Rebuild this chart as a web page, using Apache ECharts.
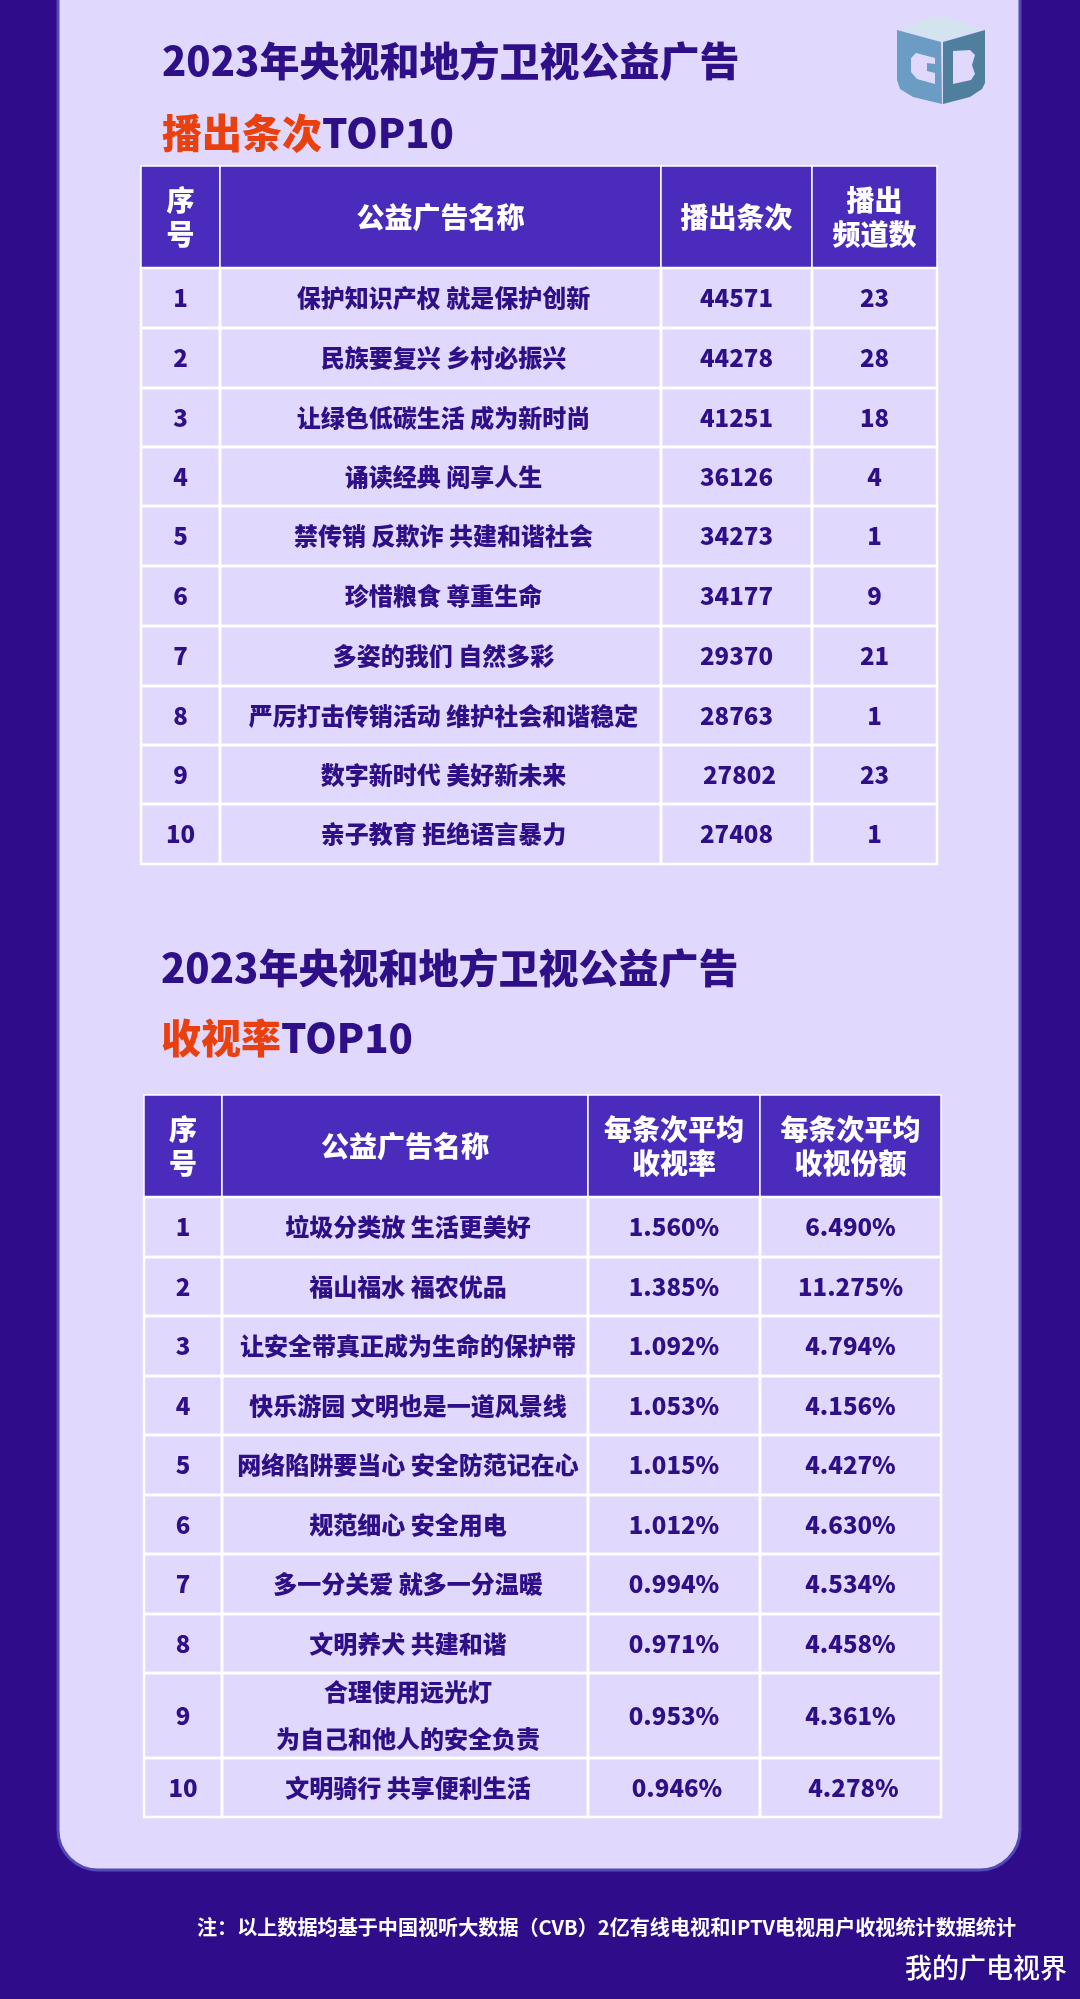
<!DOCTYPE html>
<html><head><meta charset="utf-8">
<style>html,body{margin:0;padding:0;background:#2e0c8a}#c{width:1080px;height:1999px}</style>
<script src="https://cdn.jsdelivr.net/npm/echarts@6/dist/echarts.min.js"></script>
</head><body><div id="c"></div>
<script>
// ---- data ----
const titleMain = '2023年央视和地方卫视公益广告';
const titleA = '播出条次';
const titleB = '收视率';
const titleSuffix = 'TOP10';
const headerA = ['序\n号', '公益广告名称', '播出条次', '播出\n频道数'];
const headerB = ['序\n号', '公益广告名称', '每条次平均\n收视率', '每条次平均\n收视份额'];
const ranks = ['1','2','3','4','5','6','7','8','9','10'];
const namesA = ['保护知识产权 就是保护创新','民族要复兴 乡村必振兴','让绿色低碳生活 成为新时尚','诵读经典 阅享人生','禁传销 反欺诈 共建和谐社会','珍惜粮食 尊重生命','多姿的我们 自然多彩','严厉打击传销活动 维护社会和谐稳定','数字新时代 美好新未来','亲子教育 拒绝语言暴力'];
const playsA = ['44571','44278','41251','36126','34273','34177','29370','28763','27802','27408'];
const channelsA = ['23','28','18','4','1','9','21','1','23','1'];
const namesB = ['垃圾分类放 生活更美好','福山福水 福农优品','让安全带真正成为生命的保护带','快乐游园 文明也是一道风景线','网络陷阱要当心 安全防范记在心','规范细心 安全用电','多一分关爱 就多一分温暖','文明养犬 共建和谐','合理使用远光灯\n为自己和他人的安全负责','文明骑行 共享便利生活'];
const ratingB = ['1.560%','1.385%','1.092%','1.053%','1.015%','1.012%','0.994%','0.971%','0.953%','0.946%'];
const shareB = ['6.490%','11.275%','4.794%','4.156%','4.427%','4.630%','4.534%','4.458%','4.361%','4.278%'];
const noteText = '注：以上数据均基于中国视听大数据（CVB）2亿有线电视和IPTV电视用户收视统计数据统计';
const watermark = '我的广电视界';

// ---- layout ----
const FONT = '"Noto Sans CJK SC","Noto Sans",sans-serif';
const NAVY = '#2f0f88', ORANGE = '#e8400f', HEAD = '#4a2bbb', PANEL = '#e0d9fd', BG = '#2e0c8a';
const layoutA = { x:[141,220,661,812,937], y:[166,268,328,388,447,506,566,626,686,745,804,864], nameDx:3, nudge:{'8,2':3} };
const layoutB = { x:[144,222,588,760,941], y:[1095,1197,1257,1316,1376,1435,1495,1554,1614,1673,1758,1817], nameDx:3, nudge:{'9,2':3,'9,3':3} };

function tableRows(header, c1, c2, c3) {
  const rows = [header.map((t,i)=>[i,0,t])];
  ranks.forEach((r,i)=>{ rows.push([[0,i+1,r],[1,i+1,c1[i]],[2,i+1,c2[i]],[3,i+1,c3[i]]]); });
  return rows.flat();
}
function makeSeries(idx, cells, lay) {
  return {
    type:'custom', coordinateSystem:'cartesian2d', xAxisIndex:idx, yAxisIndex:idx,
    silent:true, clip:false,
    encode:{x:0,y:1},
    data:cells,
    renderItem(params, api){
      const c = api.value(0), r = api.value(1);
      const text = cells[params.dataIndex][2];
      const p0 = api.coord([lay.x[c], lay.y[r]]);
      const p1 = api.coord([lay.x[c+1], lay.y[r+1]]);
      const head = r === 0;
      const dx = (!head && c === 1 ? lay.nameDx : 0) + (lay.nudge[(r-1)+','+c] || 0);
      const lines = text.split('\n').length;
      return { type:'group', children:[
        { type:'rect', shape:{x:p0[0],y:p0[1],width:p1[0]-p0[0],height:p1[1]-p0[1]},
          style:{fill:head?HEAD:'transparent',stroke:'#ffffff',lineWidth:head?1.5:2.5} },
        { type:'text', z2:5, style:{ text, x:(p0[0]+p1[0])/2+dx, y:(p0[1]+p1[1])/2,
            align:'center', verticalAlign:'middle',
            fill:head?'#ffffff':NAVY,
            font:'900 '+(head?28:24)+'px '+FONT,
            lineHeight: head?34:(lines>1?47:30) } }
      ]};
    }
  };
}
function titleOf(text,left,top){ return {text,left,top,textStyle:{fontFamily:FONT,fontWeight:900,fontSize:40,color:NAVY,lineHeight:50}}; }
function subOf(word,left,top){ return {text:'{o|'+word+'}{n|'+titleSuffix+'}',left,top,textStyle:{rich:{
  o:{fontFamily:FONT,fontWeight:900,fontSize:40,color:ORANGE,lineHeight:50},
  n:{fontFamily:FONT,fontWeight:900,fontSize:40,color:NAVY,lineHeight:50}}}}; }
const axisBase = {type:'value',show:false,scale:false};
const makeGrid = l => ({left:l.x[0],top:l.y[0],width:l.x[4]-l.x[0],height:l.y[11]-l.y[0],show:false});
const makeX = l => ({...axisBase,min:l.x[0],max:l.x[4]});
const makeY = l => ({...axisBase,min:l.y[0],max:l.y[11],inverse:true});

const chart = echarts.init(document.getElementById('c'),null,{width:1080,height:1999});
chart.setOption({
  animation:false, backgroundColor:BG,
  title:[
    titleOf(titleMain,157,31), subOf(titleA,157,103),
    titleOf(titleMain,156,938), subOf(titleB,156,1008),
    {text:noteText,left:192,top:1908,textStyle:{fontFamily:FONT,fontWeight:'bold',fontSize:20.1,color:'#ffffff',lineHeight:28}},
    {text:watermark,left:900,top:1946,textStyle:{fontFamily:FONT,fontWeight:500,fontSize:27,color:'#ffffff',lineHeight:34}}
  ],
  grid:[makeGrid(layoutA),makeGrid(layoutB)],
  xAxis:[{...makeX(layoutA),gridIndex:0},{...makeX(layoutB),gridIndex:1}],
  yAxis:[{...makeY(layoutA),gridIndex:0},{...makeY(layoutB),gridIndex:1}],
  series:[
    makeSeries(0,tableRows(headerA,namesA,playsA,channelsA),layoutA),
    makeSeries(1,tableRows(headerB,namesB,ratingB,shareB),layoutB)
  ],
  graphic:[
    {type:'rect',z:-10,silent:true,shape:{x:58,y:-60,width:962,height:1930,r:40},style:{fill:PANEL,stroke:'#5248b8',lineWidth:3}},
    {type:'polygon',z:-5,silent:true,shape:{points:[[900,29],[930,18],[950,18],[980,29],[941,41]]},style:{fill:'#d3e4ef'}},
    {type:'polygon',z:-5,silent:true,shape:{points:[[897,30],[941,42],[942,104],[913,97],[900,89],[897,80]]},style:{fill:'#6b9dc4'}},
    {type:'polygon',z:-5,silent:true,shape:{points:[[943,42],[985,30],[985,83],[982,89],[970,97],[943,104]]},style:{fill:'#4f7f9c'}},
    {type:'polygon',z:-4,silent:true,shape:{points:[[916,53],[935,58],[935,64],[927,63],[927,71],[935,73],[935,84],[917,79],[911,72],[911,58]]},style:{fill:PANEL}},
    {type:'polygon',z:-4,silent:true,shape:{points:[[953,51],[970,50],[975,55],[972,65],[975,74],[971,80],[953,84]]},style:{fill:PANEL}}
  ]
});
</script></body></html>
